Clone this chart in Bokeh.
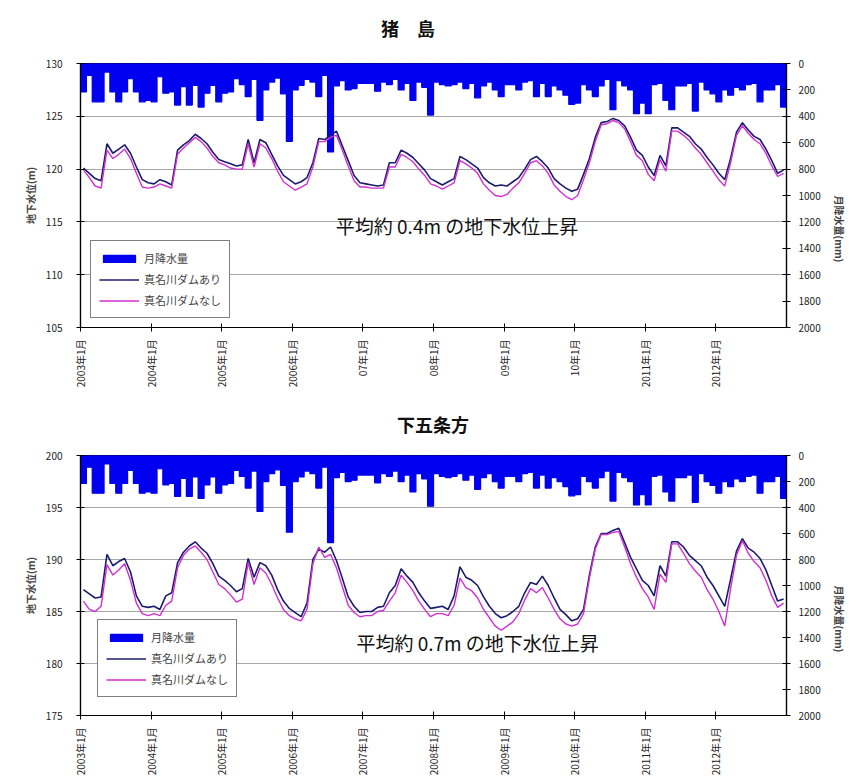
import math
from bokeh.plotting import figure
from bokeh.models import (Range1d, LinearAxis, FixedTicker, Legend, LegendItem,
                          Label, ColumnDataSource, Div)
from bokeh.layouts import column
from bokeh.embed import file_html
from bokeh.resources import INLINE

FONT = "Noto Sans CJK JP"

# ---------------- data ----------------
# month index 0 = 2003年1月 ... 119 = 2012年12月
precip = [
    215, 90, 290, 290, 65, 215, 290, 215, 115, 215, 290, 280,
    290, 100, 225, 215, 315, 175, 315, 165, 330, 225, 165, 290,
    225, 215, 115, 160, 250, 120, 430, 200, 140, 110, 230, 590,
    200, 165, 120, 140, 250, 90, 670, 170, 130, 200, 190, 150,
    150, 150, 210, 140, 160, 120, 200, 150, 280, 140, 180, 390,
    140, 160, 170, 160, 140, 190, 150, 260, 170, 140, 200, 250,
    160, 160, 200, 140, 130, 250, 150, 250, 170, 200, 240, 310,
    300, 160, 200, 250, 170, 120, 350, 130, 170, 200, 380, 300,
    380, 160, 150, 280, 350, 170, 170, 150, 360, 140, 200, 230,
    290, 200, 240, 180, 200, 160, 150, 290, 200, 200, 160, 330,
]

inoshima_dam = [
    120.1, 119.6, 119.1, 118.9, 122.4, 121.5, 121.9, 122.3, 121.5, 120.2, 119.0, 118.7,
    118.6, 119.0, 118.8, 118.5, 121.8, 122.3, 122.7, 123.3, 122.9, 122.4, 121.6, 120.9,
    120.7, 120.5, 120.3, 120.4, 122.8, 120.6, 122.8, 122.5, 121.4, 120.3, 119.4, 119.0,
    118.6, 118.8, 119.2, 120.6, 122.9, 122.8, 123.2, 123.6, 122.2, 120.8, 119.4, 118.7,
    118.6, 118.5, 118.4, 118.5, 120.6, 120.6, 121.8, 121.5, 121.1, 120.5, 119.9, 119.1,
    118.8, 118.5, 118.8, 119.1, 121.2, 120.9, 120.5, 120.1, 119.2, 118.7, 118.4, 118.5,
    118.4, 118.8, 119.2, 120.0, 120.9, 121.2, 120.7, 120.1, 119.1, 118.6, 118.2, 117.9,
    118.1, 119.5, 121.0, 123.0, 124.4, 124.5, 124.8, 124.6, 124.1, 123.0, 121.8, 121.3,
    120.2, 119.4, 121.3, 120.3, 123.9, 123.9, 123.5, 123.1, 122.4, 121.9, 121.1, 120.4,
    119.6, 119.0, 121.0, 123.5, 124.4, 123.7, 123.1, 122.8, 121.9, 120.8, 119.6, 119.9,
]
inoshima_nodam = [
    119.9, 119.2, 118.4, 118.2, 121.8, 121.0, 121.4, 121.9, 121.0, 119.6, 118.3, 118.2,
    118.3, 118.6, 118.4, 118.2, 121.4, 122.0, 122.5, 123.0, 122.6, 122.0, 121.2, 120.6,
    120.4, 120.1, 120.0, 120.0, 122.4, 120.2, 122.4, 122.0, 121.0, 119.8, 118.8, 118.4,
    118.0, 118.3, 118.6, 120.2, 122.6, 122.6, 123.0, 123.2, 121.8, 120.3, 118.9, 118.3,
    118.3, 118.2, 118.2, 118.2, 120.2, 120.2, 121.4, 121.1, 120.7, 120.0, 119.4, 118.6,
    118.4, 118.1, 118.4, 118.7, 120.8, 120.5, 120.1, 119.6, 118.6, 118.0, 117.5, 117.4,
    117.6, 118.2, 118.7, 119.6, 120.6, 120.8, 120.3, 119.6, 118.5, 117.9, 117.4, 117.1,
    117.5, 119.0, 120.6, 122.6, 124.2, 124.3, 124.6, 124.4, 123.8, 122.6, 121.3, 120.8,
    119.5, 118.9, 120.9, 119.8, 123.6, 123.6, 123.2, 122.7, 122.0, 121.4, 120.6, 119.8,
    119.0, 118.4, 120.6, 123.2, 124.1, 123.4, 122.8, 122.4, 121.5, 120.3, 119.3, 119.6,
]

shimogojo_dam = [
    187.1, 186.7, 186.3, 186.4, 190.5, 189.4, 189.8, 190.1, 188.8, 186.5, 185.5, 185.4,
    185.5, 185.2, 186.5, 186.8, 189.7, 190.7, 191.3, 191.7, 191.1, 190.6, 189.6, 188.4,
    188.0, 187.5, 186.9, 187.2, 190.1, 188.3, 189.7, 189.4, 188.5, 187.1, 186.0, 185.3,
    184.9, 184.5, 185.8, 190.0, 191.0, 190.7, 191.2, 189.9, 188.2, 186.4, 185.5, 184.9,
    185.0, 185.0, 185.4, 185.5, 186.8, 187.5, 189.1, 188.4, 187.8, 186.8, 186.0, 185.3,
    185.4, 185.5, 185.2, 186.5, 189.3, 188.3, 188.0, 187.5, 186.4, 185.5, 184.8, 184.4,
    184.6, 185.0, 185.5, 186.8, 187.8, 187.6, 188.4, 187.5, 186.3, 185.2, 184.7, 184.1,
    184.3, 185.2, 188.5, 191.2, 192.5, 192.5, 192.8, 193.0, 191.6, 190.2, 189.1, 188.0,
    187.5, 186.5, 189.4, 188.4, 191.7, 191.7, 191.2, 190.4, 189.9, 189.4, 188.3, 187.5,
    186.5, 185.5, 188.1, 190.8, 192.0, 191.1, 190.7, 190.1, 189.0, 187.5, 186.0, 186.2,
]
shimogojo_nodam = [
    186.0, 185.2, 185.0, 185.5, 189.5, 188.5, 189.0, 189.6, 188.0, 185.8, 184.8, 184.6,
    184.8, 184.6, 185.6, 186.0, 189.2, 190.4, 191.0, 191.3, 190.7, 190.0, 188.8, 187.6,
    187.2, 186.6, 185.9, 186.2, 189.7, 187.6, 189.2, 188.7, 187.6, 186.3, 185.2, 184.6,
    184.3, 184.1, 185.2, 189.6, 191.2, 190.2, 190.5, 189.2, 187.4, 185.6, 184.9, 184.5,
    184.6, 184.6, 185.0, 185.1, 186.0, 186.8, 188.5, 187.8, 187.0, 186.0, 185.2, 184.5,
    184.8, 184.8, 184.6, 185.6, 188.2, 187.3, 187.0, 186.3, 185.2, 184.4, 183.6, 183.2,
    183.6, 184.0, 184.8, 186.1, 187.2, 186.8, 187.3, 186.3, 185.2, 184.3, 183.8, 183.6,
    183.8, 184.8, 188.2, 191.0, 192.4, 192.4, 192.6, 192.7, 191.2, 189.6, 188.3, 187.2,
    186.4, 185.2, 188.6, 187.8, 191.5, 191.5, 190.6, 189.6, 188.9, 188.3, 187.1, 186.2,
    185.0, 183.6, 187.2, 190.4, 191.8, 190.6, 189.8, 189.2, 188.0, 186.5, 185.4, 185.8,
]

tick_months = [0, 12, 24, 36, 48, 60, 72, 84, 96, 108]
tick_labels_top = ["2003年1月", "2004年1月", "2005年1月", "2006年1月", "07年1月",
                   "08年1月", "09年1月", "10年1月", "2011年1月", "2012年1月"]
tick_labels_bottom = ["2003年1月", "2004年1月", "2005年1月", "2006年1月", "2007年1月",
                      "2008年1月", "2009年1月", "2010年1月", "2011年1月", "2012年1月"]
precip_ticks = [0, 200, 400, 600, 800, 1000, 1200, 1400, 1600, 1800, 2000]

NAVY = "#1c1c6e"
MAGENTA = "#d22fd2"
BLUE = "#0000f0"


def title_div(text, height, pad_top, pad_right):
    return Div(text=text, width=866, height=height, margin=0,
               styles={"font-family": FONT, "font-size": "18px", "font-weight": "bold",
                       "color": "#111111", "line-height": "24px",
                       "padding-top": f"{pad_top}px", "text-align": "center",
                       "padding-right": f"{pad_right}px", "box-sizing": "border-box",
                       "width": "866px"})


def make_chart(ylo, yhi, dam, nodam, tick_labels, legend_labels, note,
               note_xy, legend_loc, height, borders):
    bl, br, bt, bb = borders
    x = [m + 0.5 for m in range(len(precip))]
    src = ColumnDataSource(dict(x=x, precip=precip, dam=dam, nodam=nodam))
    p = figure(width=866, height=height, output_backend="svg", toolbar_location=None,
               x_range=Range1d(0, 120), y_range=Range1d(ylo, yhi),
               min_border_left=bl, min_border_right=br, min_border_top=bt,
               min_border_bottom=bb, background_fill_color="white",
               border_fill_color="white")
    p.outline_line_color = "black"
    p.outline_line_width = 1.2

    p.extra_y_ranges = {"precip": Range1d(2000, 0)}
    bars = p.vbar(x="x", width=1.0, top=0, bottom="precip", source=src,
                  y_range_name="precip", fill_color=BLUE, line_color=BLUE,
                  line_width=1.3)
    l1 = p.line("x", "dam", source=src, line_color=NAVY, line_width=1.6)
    l2 = p.line("x", "nodam", source=src, line_color=MAGENTA, line_width=1.4)

    # axes
    yax = p.yaxis[0]
    yax.ticker = FixedTicker(ticks=list(range(ylo, yhi + 1, 5)))
    yax.axis_label = "地下水位(m)"
    xax = p.xaxis[0]
    xax.ticker = FixedTicker(ticks=tick_months)
    xax.major_label_overrides = {m: lab for m, lab in zip(tick_months, tick_labels)}
    xax.major_label_orientation = math.pi / 2
    rax = LinearAxis(y_range_name="precip", ticker=FixedTicker(ticks=precip_ticks),
                     axis_label="月降水量(mm)")
    p.add_layout(rax, "right")
    for ax in (yax, xax, rax):
        ax.axis_line_color = "black"
        ax.axis_line_width = 1.2
        ax.major_tick_line_color = "black"
        ax.major_tick_in = 4
        ax.major_tick_out = 4
        ax.minor_tick_line_color = None
        ax.major_label_text_font = FONT
        ax.major_label_text_font_size = "10px"
        ax.major_label_text_color = "#222222"
        ax.axis_label_text_font = FONT
        ax.axis_label_text_font_size = "10px"
        ax.axis_label_text_font_style = "bold"
    yax.major_label_standoff = 14
    rax.major_label_standoff = 8
    rax.axis_label_standoff = 16
    rax.axis_label_orientation = -math.pi / 2
    xax.major_label_standoff = 8

    p.xgrid.visible = False
    p.ygrid.ticker = FixedTicker(ticks=list(range(ylo + 5, yhi, 5)))
    p.ygrid.grid_line_color = "#a8a8a8"
    p.ygrid.grid_line_width = 1.2

    legend = Legend(items=[LegendItem(label=legend_labels[0], renderers=[bars]),
                           LegendItem(label=legend_labels[1], renderers=[l1]),
                           LegendItem(label=legend_labels[2], renderers=[l2])],
                    location=legend_loc, orientation="vertical")
    legend.label_text_font = FONT
    legend.label_text_font_size = "11px"
    legend.border_line_color = "black"
    legend.border_line_width = 1.5
    legend.background_fill_alpha = 1.0
    legend.glyph_width = 40
    legend.glyph_height = 9
    legend.label_height = 18
    legend.spacing = 3
    legend.padding = 8
    legend.margin = 0
    p.add_layout(legend, "center")

    p.add_layout(Label(x=note_xy[0], y=note_xy[1], text=note, text_align="center",
                       text_baseline="middle", text_font=FONT, text_font_size="19px",
                       text_color="#111111"))
    return p


t1 = title_div("猪　島", 45, 16, 50)
p1 = make_chart(105, 130, inoshima_dam, inoshima_nodam, tick_labels_top,
                ["月降水量", "真名川ダムあり", "真名川ダムなし"],
                "平均約 0.4m の地下水位上昇", (64, 114.7), (10, 9), 355,
                (80, 80, 18, 73))
t2 = title_div("下五条方", 40, 12, 0)
p2 = make_chart(175, 200, shimogojo_dam, shimogojo_nodam, tick_labels_bottom,
                ["月降水量", "真名川ダムあり", "真名川ダムなし"],
                "平均約 0.7m の地下水位上昇", (67.5, 182.0), (17, 18), 344,
                (75, 74, 15, 69))

layout = column(t1, p1, t2, p2, spacing=0)
open("out.html", "w").write(file_html(layout, INLINE))
